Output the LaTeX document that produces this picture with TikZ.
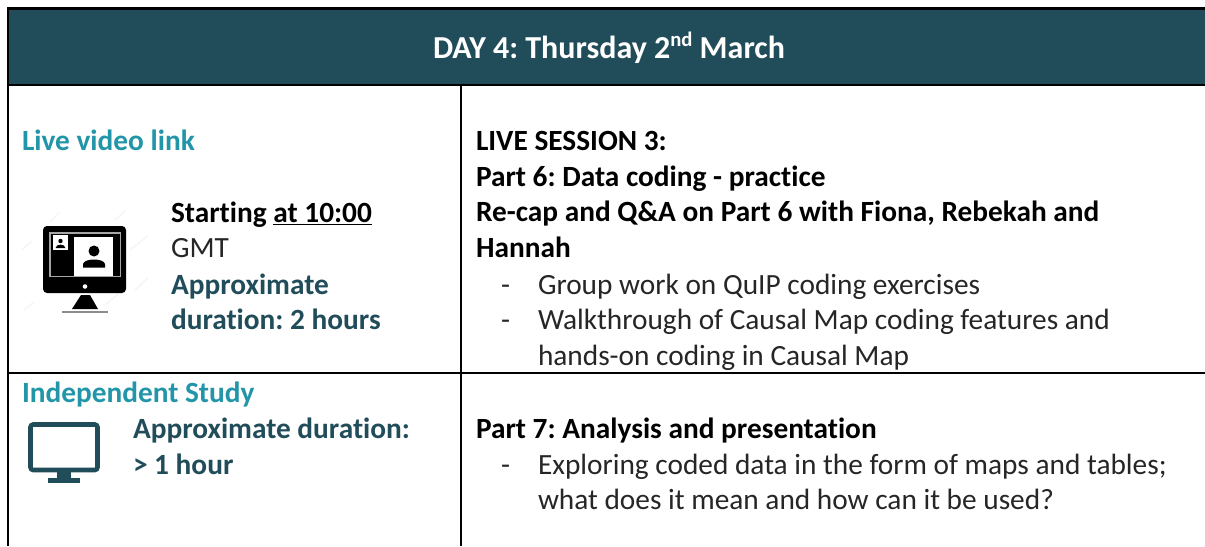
\documentclass[tikz,border=0pt]{standalone}
\usepackage{fontspec}
\setmainfont[Ligatures=CommonOff]{Carlito}
\definecolor{headbg}{HTML}{214D5B}
\definecolor{teal}{HTML}{2296A8}
\definecolor{dark}{HTML}{214D5B}
\definecolor{ink}{HTML}{262626}
\newcommand{\fs}{\fontsize{22pt}{26pt}\selectfont\frenchspacing}
\tikzset{
  rule/.style={draw=black,line width=1.7pt},
  txt/.style={anchor=base west,inner sep=0pt,outer sep=0pt,font=\fs,text=ink},
  bold/.style={txt,font=\fs\bfseries,text=black},
  tealb/.style={txt,font=\fs\bfseries,text=teal},
  darkb/.style={txt,font=\fs\bfseries,text=dark},
}
\begin{document}
\begin{tikzpicture}[x=0.75pt,y=-0.75pt]
\useasboundingbox (0,0) rectangle (1205,546);
\fill[white] (0,0) rectangle (1205,546);
\fill[headbg] (8,9) rectangle (1205,85);
\draw[rule] (1205,8.5) -- (8,8.5) -- (8,546);
\draw[rule] (8,85) -- (1205,85);
\draw[rule] (461,85) -- (461,546);
\draw[rule] (8,373) -- (1205,373);
\node[anchor=base,inner sep=0pt,font=\fontsize{24pt}{28pt}\selectfont\bfseries\frenchspacing,text=white] (head) at (609,58) {DAY 4: Thursday 2\raisebox{9pt}{\fontsize{15.5pt}{18pt}\selectfont nd} March};
\node[tealb] (live) at (22,150) {Live video link};
\node[bold] (start) at (171,222) {Starting \underline{at 10:00}};
\node[txt] (gmt) at (171,257) {GMT};
\node[darkb] (appa) at (171,294) {Approximate};
\node[darkb] (appb) at (171,329) {duration: 2 hours};
\node[tealb] (ind) at (22,402) {Independent Study};
\node[darkb] (dura) at (133,438) {Approximate duration:};
\node[darkb] (durb) at (133,474) {> 1 hour};
\node[bold] (s1) at (476,150) {LIVE SESSION 3:};
\node[bold] (s2) at (476,186) {Part 6: Data coding - practice};
\node[bold] (s3) at (476,221) {Re-cap and Q\&A on Part 6 with Fiona, Rebekah and};
\node[bold] (s4) at (476,257) {Hannah};
\node[txt] (d1) at (501,294) {-};
\node[txt] (l1) at (538,294) {Group work on QuIP coding exercises};
\node[txt] (d2) at (501,329) {-};
\node[txt] (l2) at (538,329) {Walkthrough of Causal Map coding features and};
\node[txt] (l3) at (538,365) {hands-on coding in Causal Map};
\node[bold] (p7) at (476,438) {Part 7: Analysis and presentation};
\node[txt] (d3) at (501,474) {-};
\node[txt] (l4) at (538,474) {Exploring coded data in the form of maps and tables;};
\node[txt] (l5) at (538,509) {what does it mean and how can it be used?};
% live video icon
\begin{scope}[line cap=round,draw=black!4,line width=1pt]
\draw (50,222)--(60,212); \draw (115,220)--(125,211); \draw (22,250)--(32,241);
\draw (130,250)--(148,236); \draw (135,290)--(148,278); \draw (24,310)--(34,302);
\draw (105,305)--(118,294);
\end{scope}
\fill[black,rounded corners=3pt] (43,226) rectangle (126,293);
\fill[black!35!white] (49,232) rectangle (121,277);
\fill[black] (50.5,233.5) rectangle (119.5,275.5);
\fill[white] (74,237) rectangle (113,275.5);
\fill[white] (53,235) rectangle (68,250);
\fill[black] (94,251) circle (5.5);
\fill[black] (83,267.5) -- (83,264) .. controls (84,258) and (104,258) .. (105,264) -- (105,267.5) -- cycle;
\fill[black] (60.5,241) circle (2.2);
\fill[black] (55.5,248) .. controls (56,243.5) and (65,243.5) .. (65.5,248) -- cycle;
\fill[white] (85,286.5) circle (2.3);
\fill[black] (81,295) -- (90,295) -- (98,309) -- (72,309) -- cycle;
\fill[black!45!white] (62,311) rectangle (108,313);
% independent study icon
\draw[dark,line width=3.4pt,rounded corners=2pt] (30.5,424.5) rectangle (97.5,470);
\fill[dark] (57,471) rectangle (71,478);
\fill[dark] (48,478) rectangle (80,483);
\end{tikzpicture}
\end{document}
